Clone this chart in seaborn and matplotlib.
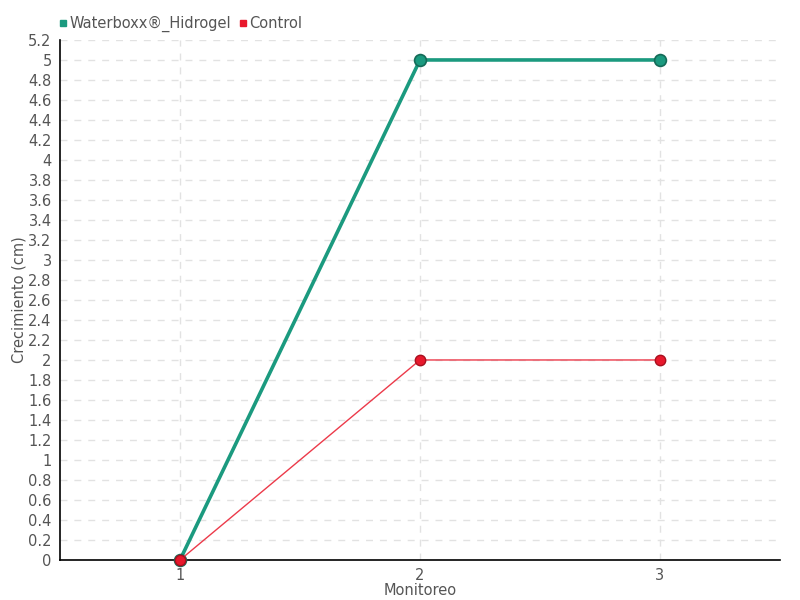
import numpy as np
import pandas as pd
import seaborn as sns
import matplotlib.pyplot as plt
from matplotlib.lines import Line2D
from matplotlib.ticker import FuncFormatter

# data
monitoreo = [1, 2, 3]
waterboxx = [0, 5, 5]
control = [0, 2, 2]
series_names = ["Waterboxx®_Hidrogel", "Control"]
colors = ["#1b9a7f", "#e8182c"]

df = pd.DataFrame({
    "Monitoreo": monitoreo * 2,
    "valor": waterboxx + control,
    "serie": [series_names[0]] * 3 + [series_names[1]] * 3,
})

sns.set_style("white")
plt.rcParams['font.family'] = ['DejaVu Sans']

fig = plt.figure(figsize=(8, 6), dpi=100)
ax = fig.add_axes([0.075, 0.0667, 0.9, 0.8667])

sns.lineplot(data=df, x="Monitoreo", y="valor", hue="serie",
             palette=colors, ax=ax, legend=False, marker="o")

# style each series separately (thick green, thin red)
lines = ax.get_lines()
lines[0].set_linewidth(2.6)
lines[0].set_markersize(8.5)
lines[0].set_markeredgecolor("#146b58")
lines[0].set_markeredgewidth(1.2)
lines[0].set_zorder(3)
lines[1].set_linewidth(1)
lines[1].set_color("#ec3a4a")
lines[1].set_markerfacecolor("#e8182c")
lines[1].set_markersize(7.5)
lines[1].set_markeredgecolor("#a8101e")
lines[1].set_markeredgewidth(1)
lines[1].set_zorder(4)
for ln in lines:
    ln.set_clip_on(False)

ax.set_xlim(0.5, 3.5)
ax.set_ylim(0, 5.2)
ax.set_xticks(monitoreo)
ax.set_yticks(np.round(np.arange(0, 5.21, 0.2), 1))
ax.yaxis.set_major_formatter(FuncFormatter(lambda v, p: f"{v:g}"))

ax.grid(True, linestyle=(0, (5, 5)), color="#e2e2e2", linewidth=1)
ax.set_axisbelow(True)
for s in ["top", "right"]:
    ax.spines[s].set_visible(False)
for s in ["left", "bottom"]:
    ax.spines[s].set_color("black")
    ax.spines[s].set_linewidth(1.2)
    ax.spines[s].set_zorder(2)

ax.tick_params(axis="both", colors="black", labelcolor="#555555",
               labelsize=10.5, length=5, width=1, pad=1, direction="out")
ax.set_xlabel("Monitoreo", color="#555555", fontsize=10.5, labelpad=0)
ax.set_ylabel("Crecimiento (cm)", color="#555555", fontsize=10.5, labelpad=1)

handles = [Line2D([], [], marker="s", linestyle="", color=c, markersize=5) for c in colors]
fig.legend(handles, series_names, loc="upper left", bbox_to_anchor=(0.055, 0.995),
           ncol=2, frameon=False, handletextpad=0.05, columnspacing=0.4,
           fontsize=10.5, labelcolor="#555555", handlelength=0.8)

plt.savefig("out.png", dpi=100)
